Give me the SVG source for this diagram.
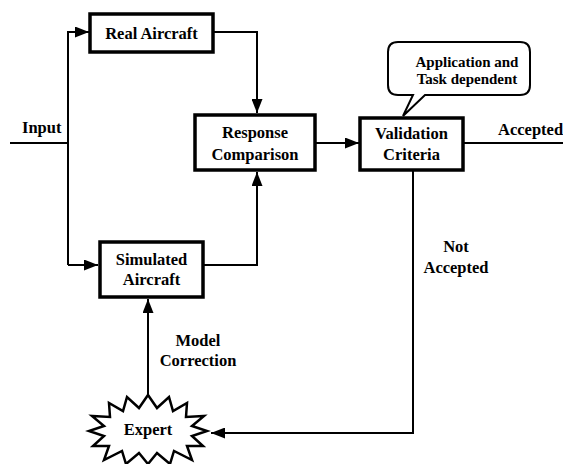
<svg xmlns="http://www.w3.org/2000/svg" width="563" height="464" viewBox="0 0 563 464" font-family="'Liberation Serif', 'DejaVu Serif', 'Times New Roman', serif">
  <defs>
    <marker id="arrow" viewBox="0 0 14 11" refX="14" refY="5.5" markerWidth="14" markerHeight="11" markerUnits="userSpaceOnUse" orient="auto">
      <path d="M0,0 L14,5.5 L0,11 Z" fill="#000"/>
    </marker>
  </defs>
  <style>
    .box { fill: #fff; stroke: #000; stroke-width: 3.5; }
    .link { fill: none; stroke: #000; stroke-width: 2; }
    .label { font-family: 'Liberation Serif', 'DejaVu Serif', 'Times New Roman', serif; font-weight: bold; font-size: 16.5px; fill: #000; }
    .note { font-size: 15px; }
    .mid { text-anchor: middle; }
  </style>
  <rect width="563" height="464" fill="#fff"/>

  <g id="connectors">
    <!-- input feed -->
    <path class="link" d="M10,143 H68"/>
    <path class="link" d="M68,265 V32 H89" marker-end="url(#arrow)"/>
    <path class="link" d="M68,265 H98" marker-end="url(#arrow)"/>
    <!-- aircraft responses into comparison -->
    <path class="link" d="M213,32 H257 V113" marker-end="url(#arrow)"/>
    <path class="link" d="M203,265 H257 V172" marker-end="url(#arrow)"/>
    <!-- comparison to criteria -->
    <path class="link" d="M315,143 H359" marker-end="url(#arrow)"/>
    <!-- accepted exit -->
    <path class="link" d="M463,143 H563"/>
    <!-- not accepted loop to expert -->
    <path class="link" d="M413,170 V433 H211" marker-end="url(#arrow)"/>
    <!-- model correction -->
    <path class="link" d="M148,395 V299" marker-end="url(#arrow)"/>
  </g>

  <g id="input-label">
    <text class="label" x="22" y="133">Input</text>
  </g>

  <g id="real-aircraft">
    <rect class="box" x="90" y="14" width="123" height="38"/>
    <text class="label mid" x="151.5" y="38.5">Real Aircraft</text>
  </g>

  <g id="response-comparison">
    <rect class="box" x="195" y="115" width="120" height="55"/>
    <text class="label mid" x="255" y="138">Response</text>
    <text class="label mid" x="255" y="160">Comparison</text>
  </g>

  <g id="validation-criteria">
    <rect class="box" x="360" y="118" width="103" height="52"/>
    <text class="label mid" x="411.5" y="139">Validation</text>
    <text class="label mid" x="411.5" y="160">Criteria</text>
  </g>

  <g id="callout">
    <path fill="#fff" stroke="#000" stroke-width="2"
      d="M398,42 H520 Q530,42 530,52 V85 Q530,95 520,95 H425 L403,116 L413,95 H398 Q388,95 388,85 V52 Q388,42 398,42 Z"/>
    <text class="label note mid" x="467" y="67">Application and</text>
    <text class="label note mid" x="467" y="84">Task dependent</text>
  </g>

  <g id="accepted-label">
    <text class="label" x="498" y="135">Accepted</text>
  </g>

  <g id="not-accepted-label">
    <text class="label mid" x="456" y="252">Not</text>
    <text class="label mid" x="456" y="273">Accepted</text>
  </g>

  <g id="simulated-aircraft">
    <rect class="box" x="100" y="242" width="103" height="55"/>
    <text class="label mid" x="151.5" y="265">Simulated</text>
    <text class="label mid" x="151.5" y="285">Aircraft</text>
  </g>

  <g id="model-correction-label">
    <text class="label mid" x="198" y="346">Model</text>
    <text class="label mid" x="198" y="366">Correction</text>
  </g>

  <g id="expert">
    <polygon fill="#fff" stroke="#000" stroke-width="2.5" stroke-linejoin="miter"
      points="148,395 157,408 169,397 173,411 187,403 186,417 204,416 192,426 207,431 192,436 203,446 187,446 192,460 174,451 170,464 157,453 148,464 139,453 126,464 122,451 104,460 109,446 93,446 104,436 89,431 104,426 92,416 110,417 109,403 123,411 127,397 139,408"/>
    <text class="label mid" x="148" y="435">Expert</text>
  </g>
</svg>
